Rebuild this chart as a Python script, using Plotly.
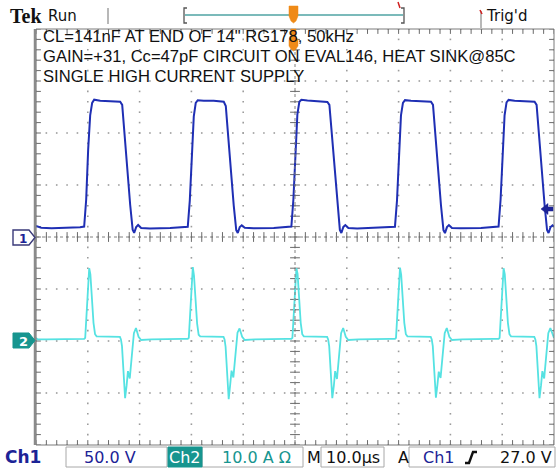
import plotly.graph_objects as go
import numpy as np

W, H = 556, 470
# graticule area (pixels)
GX0, GX1, GY0, GY1 = 36, 554, 29, 445

# ---------------- scope settings ----------------
time_per_div_us = 10.0
ch1_volts_per_div = 50.0
ch2_amps_per_div = 10.0
ch2_position_div = -2.0
trigger_level_v = 27.0

# ---------------- Ch1 (output voltage, V) vs time (us) ----------------
ch1_t = [0.0, 1.0, 3.0, 6.0, 8.5,
         9.3, 9.69, 10.07, 10.46, 10.84, 11.23, 12.4, 14.3, 16.25, 16.64, 17.02, 17.6, 18.18, 18.66, 18.95, 19.34, 19.72, 20.3, 22.0, 25.9, 28.8,
         29.3, 29.69, 30.07, 30.46, 30.84, 31.23, 32.4, 34.3, 36.25, 36.64, 37.02, 37.6, 38.18, 38.66, 38.95, 39.34, 39.72, 40.3, 42.0, 45.9, 48.8,
         49.3, 49.69, 50.07, 50.46, 50.84, 51.23, 52.4, 54.3, 56.25, 56.64, 57.02, 57.6, 58.18, 58.66, 58.95, 59.34, 59.72, 60.3, 62.0, 65.9, 68.8,
         69.3, 69.69, 70.07, 70.46, 70.84, 71.23, 72.4, 74.3, 76.25, 76.64, 77.02, 77.6, 78.18, 78.66, 78.95, 79.34, 79.72, 80.3, 82.0, 85.9, 88.8,
         89.3, 89.69, 90.07, 90.46, 90.84, 91.23, 92.4, 94.3, 96.25, 96.64, 97.02, 97.6, 98.18, 98.66, 98.95, 99.34, 99.72, 100.0]
ch1_v = [10.5, 9.0, 8.5, 8.7, 9.3,
         10, 36, 84, 117, 129, 132, 131, 130.5, 130, 127, 103, 64, 31, 7, 4, 9.5, 11.5, 8.7, 8.2, 8.6, 9.5,
         9.8, 35, 83, 116, 129, 131.5, 131, 131, 130, 126, 102, 63, 30, 6.5, 3.8, 9.6, 11.3, 8.8, 8.3, 8.7, 9.6,
         10, 36, 85, 118, 130, 132, 131.2, 130.6, 129.8, 127, 104, 65, 31, 6.8, 3.9, 9.7, 11.5, 8.6, 8.2, 8.8, 9.5,
         9.9, 35, 84, 117, 129, 131.6, 131, 130.8, 130, 127, 103, 64, 30.5, 6.6, 3.7, 9.5, 11.4, 8.7, 8.3, 8.6, 9.6,
         10, 36, 84, 117, 129.5, 131.8, 131, 130.7, 130, 127, 103, 64, 31, 6.7, 3.8, 9.6, 11.3, 10.0]

# ---------------- Ch2 (output current, A) vs time (us) ----------------
ch2_t = [0.0, 0.3, 2.0, 5.0, 8.0,
         9.3, 9.5, 9.8, 10.1, 10.27, 10.5, 10.8, 11.1, 11.4, 11.7, 16.2, 16.4, 16.6, 16.9, 17.2, 17.5, 17.75, 18.1, 18.5, 18.9, 19.3, 19.8, 20.3, 22.3, 28.3,
         29.3, 29.5, 29.8, 30.1, 30.27, 30.5, 30.8, 31.1, 31.4, 31.7, 36.2, 36.4, 36.6, 36.9, 37.2, 37.5, 37.75, 38.1, 38.5, 38.9, 39.3, 39.8, 40.3, 42.3, 48.3,
         49.3, 49.5, 49.8, 50.1, 50.27, 50.5, 50.8, 51.1, 51.4, 51.7, 56.2, 56.4, 56.6, 56.9, 57.2, 57.5, 57.75, 58.1, 58.5, 58.9, 59.3, 59.8, 60.3, 62.3, 68.3,
         69.3, 69.5, 69.8, 70.1, 70.27, 70.5, 70.8, 71.1, 71.4, 71.7, 76.2, 76.4, 76.6, 76.9, 77.2, 77.5, 77.75, 78.1, 78.5, 78.9, 79.3, 79.8, 80.3, 82.3, 88.3,
         89.3, 89.5, 89.8, 90.1, 90.27, 90.5, 90.8, 91.1, 91.4, 91.7, 96.2, 96.4, 96.6, 96.9, 97.2, 97.5, 97.75, 98.1, 98.5, 98.9, 99.3, 99.8, 100.0]
ch2_i = [0.6, 0.3, 0.3, 0.35, 0.4,
         0.4, 0.6, 6.0, 12.5, 14.0, 12.8, 7.5, 3.5, 1.3, 0.9, 0.8, 0.3, -1.0, -6.0, -11.0, -8.5, -5.8, -7.2, -2.5, 1.5, 2.5, 0.8, 0.2, 0.3, 0.4,
         0.4, 0.6, 6.2, 12.8, 14.2, 12.6, 7.3, 3.4, 1.2, 0.9, 0.8, 0.3, -1.1, -6.2, -11.2, -8.3, -5.7, -7.0, -2.4, 1.6, 2.4, 0.8, 0.2, 0.3, 0.4,
         0.4, 0.6, 6.0, 12.6, 14.0, 12.9, 7.6, 3.5, 1.3, 0.9, 0.8, 0.3, -1.0, -6.1, -11.0, -8.6, -5.8, -7.3, -2.5, 1.5, 2.5, 0.8, 0.2, 0.3, 0.4,
         0.4, 0.6, 6.1, 12.7, 14.1, 12.7, 7.4, 3.5, 1.3, 0.9, 0.8, 0.3, -1.0, -6.0, -10.9, -8.4, -5.9, -7.1, -2.5, 1.5, 2.5, 0.8, 0.2, 0.3, 0.4,
         0.4, 0.6, 6.0, 12.6, 14.0, 12.8, 7.5, 3.5, 1.3, 0.9, 0.8, 0.3, -1.0, -6.0, -11.0, -8.5, -5.8, -7.2, -2.5, 1.5, 2.5, 0.8, 0.6]

note_lines = ['CL=141nF AT END OF 14" RG178, 50kHz',
              "GAIN=+31, Cc=47pF CIRCUIT ON EVAL146, HEAT SINK@85C",
              "SINGLE HIGH CURRENT SUPPLY"]

NAVY = "#1c2396"
CH1_COL = "#1f2fb4"
CH2_COL = "#55e2e2"
TEAL = "#17958f"
ORANGE = "#ef8a17"

def px(x):
    return x / W

def py(y):
    return 1 - y / H

def path(points, close=True):
    s = "M " + " L ".join(f"{px(x):.5f},{py(y):.5f}" for x, y in points)
    return s + (" Z" if close else "")

fig = go.Figure()

# ----- graticule dots -----
gx, gy = [], []
for xd in range(0, 11):
    for yd in np.arange(-4, 4.001, 0.2):
        gx.append(xd * time_per_div_us); gy.append(yd)
for yd in range(-4, 5):
    for xd in np.arange(0, 10.001, 0.2):
        gx.append(xd * time_per_div_us); gy.append(yd)
fig.add_trace(go.Scatter(x=gx, y=gy, mode="markers", hoverinfo="skip",
                         marker=dict(symbol="square", size=1.6, color="#9c9c9c", line=dict(width=0))))

# center-line and edge ticks
tx = list(np.arange(0, 10.001, 0.2) * time_per_div_us)
ty = list(np.arange(-4, 4.001, 0.2))
fig.add_trace(go.Scatter(x=tx + tx + tx, y=[0] * len(tx) + [4] * len(tx) + [-4] * len(tx), mode="markers",
                         hoverinfo="skip",
                         marker=dict(symbol="line-ns", size=7, line=dict(width=1, color="#6a6a6a"))))
fig.add_trace(go.Scatter(x=[50] * len(ty) + [0] * len(ty) + [100] * len(ty), y=ty + ty + ty, mode="markers",
                         hoverinfo="skip",
                         marker=dict(symbol="line-ew", size=7, line=dict(width=1, color="#6a6a6a"))))

# ----- waveforms -----
fig.add_trace(go.Scatter(x=ch2_t, y=[i / ch2_amps_per_div + ch2_position_div for i in ch2_i],
                         mode="lines", line=dict(color=CH2_COL, width=1.8), hoverinfo="skip"))
fig.add_trace(go.Scatter(x=ch1_t, y=[v / ch1_volts_per_div for v in ch1_v],
                         mode="lines", line=dict(color=CH1_COL, width=2), hoverinfo="skip"))

shapes = []
# center lines
shapes.append(dict(type="line", xref="x", yref="y", x0=0, x1=100, y0=0, y1=0,
                   line=dict(color="#808080", width=1, dash="dot")))
shapes.append(dict(type="line", xref="x", yref="y", x0=50, x1=50, y0=-4, y1=4,
                   line=dict(color="#808080", width=1, dash="dot")))
# border
shapes.append(dict(type="rect", xref="paper", yref="paper", x0=px(GX0), x1=px(GX1), y0=py(GY1), y1=py(GY0),
                   line=dict(color="#7a7a7a", width=1)))
shapes.append(dict(type="line", xref="paper", yref="paper", x0=px(GX0 - 1), x1=px(GX0 - 1), y0=py(GY1), y1=py(GY0),
                   line=dict(color="#8a8a8a", width=2.5)))

# top bar elements
shapes.append(dict(type="line", xref="paper", yref="paper", x0=px(108), x1=px(108), y0=py(8), y1=py(24),
                   line=dict(color="#a0a0a0", width=1.5)))
shapes.append(dict(type="line", xref="paper", yref="paper", x0=px(185), x1=px(403), y0=py(15), y1=py(15),
                   line=dict(color="#4fa3a3", width=1.5)))
shapes.append(dict(type="path", xref="paper", yref="paper",
                   path=path([(187, 8), (184, 8), (184, 23), (187, 23)], close=False),
                   line=dict(color="#555", width=1.3)))
shapes.append(dict(type="path", xref="paper", yref="paper",
                   path=path([(401, 8), (404, 8), (404, 23), (401, 23)], close=False),
                   line=dict(color="#555", width=1.3)))
shapes.append(dict(type="line", xref="paper", yref="paper", x0=px(398), x1=px(400), y0=py(2), y1=py(8),
                   line=dict(color="#d02020", width=1.5)))
shapes.append(dict(type="line", xref="paper", yref="paper", x0=px(481), x1=px(481), y0=py(11), y1=py(28),
                   line=dict(color="#a0a0a0", width=1.5)))
shapes.append(dict(type="line", xref="paper", yref="paper", x0=px(480), x1=px(482), y0=py(10), y1=py(14),
                   line=dict(color="#d02020", width=1.5)))
# orange trigger position markers
shapes.append(dict(type="path", xref="paper", yref="paper",
                   path=path([(289, 6), (298, 6), (298, 16), (296, 21), (293.5, 23), (291, 21), (289, 16)]),
                   fillcolor=ORANGE, line=dict(color=ORANGE, width=0.5)))
shapes.append(dict(type="path", xref="paper", yref="paper",
                   path=path([(291, 29), (296, 29), (296, 37), (298, 40), (298, 46), (296, 49), (293.5, 51),
                              (291, 49), (289, 46), (289, 40), (291, 37)]),
                   fillcolor=ORANGE, line=dict(color=ORANGE, width=0.5)))

# channel markers
shapes.append(dict(type="path", xref="paper", yref="paper",
                   path=path([(13, 230), (29, 230), (35, 237.5), (29, 245), (13, 245)]),
                   fillcolor="white", line=dict(color="#3a3a7a", width=1.4)))
shapes.append(dict(type="path", xref="paper", yref="paper",
                   path=path([(13, 333), (29, 333), (35, 340.5), (29, 348), (13, 348)]),
                   fillcolor=TEAL, line=dict(color=TEAL, width=1)))
# trigger level arrow (right side)
shapes.append(dict(type="path", xref="paper", yref="paper",
                   path=path([(541, 209), (548, 203.5), (548, 207), (553, 207), (553, 211), (548, 211), (548, 214.5)]),
                   fillcolor=NAVY, line=dict(color=NAVY, width=0.5)))

# status bar boxes
for (a, b) in [(66, 167), (202, 303), (321, 384), (409, 555)]:
    shapes.append(dict(type="rect", xref="paper", yref="paper", x0=px(a), x1=px(b), y0=py(467), y1=py(447),
                       line=dict(color="#a8a8a8", width=1)))
shapes.append(dict(type="rect", xref="paper", yref="paper", x0=px(168), x1=px(202), y0=py(467), y1=py(447),
                   fillcolor=TEAL, line=dict(color=TEAL, width=1)))
# rising-edge slope symbol
shapes.append(dict(type="path", xref="paper", yref="paper",
                   path=path([(465, 463), (469, 463), (473, 452), (477, 452)], close=False),
                   line=dict(color="#111", width=2.4)))

annotations = []

def txt(x, y, s, size, color, family="DejaVu Sans", xanchor="left"):
    annotations.append(dict(x=px(x), y=py(y), xref="paper", yref="paper", text=s, showarrow=False,
                            xanchor=xanchor, yanchor="middle", borderpad=0,
                            font=dict(size=size, color=color, family=family)))

txt(9, 16, "<b>Tek</b>", 20, "#111", "Liberation Serif")
txt(47, 16, "Run", 15, "#111")
txt(485, 16, "Trig'd", 15, "#111")

for k, line in enumerate(note_lines):
    txt(42, 37 + 19.5 * k, line, 16.6, "#111", "Liberation Sans")

txt(23, 238.5, "<b>1</b>", 12, NAVY, xanchor="center")
txt(23, 341, "<b>2</b>", 13, "white", xanchor="center")

txt(4, 457, "<b>Ch1</b>", 17, NAVY)
txt(83, 457, "50.0 V", 16, NAVY)
txt(185, 457, "Ch2", 16, "white", xanchor="center")
txt(221, 457, "10.0 A Ω", 16, TEAL)
txt(306, 457, "M", 16, "#111")
txt(325, 457, "10.0µs", 16, "#111")
txt(397, 457, "A", 16, "#111")
txt(422, 457, "Ch1", 16, NAVY)
txt(553, 457, "27.0 V", 16, "#111", xanchor="right")

fig.update_layout(
    width=W, height=H, autosize=False,
    margin=dict(l=0, r=0, t=0, b=0),
    paper_bgcolor="white", plot_bgcolor="white",
    showlegend=False,
    xaxis=dict(domain=[px(GX0), px(GX1)], range=[0, 10 * time_per_div_us], visible=False, fixedrange=True),
    yaxis=dict(domain=[py(GY1), py(GY0)], range=[-4, 4], visible=False, fixedrange=True),
    shapes=shapes, annotations=annotations,
)

fig.write_html("out.html", config={"displayModeBar": False},
               post_script="document.body.style.margin='0';document.body.style.overflow='hidden';")
